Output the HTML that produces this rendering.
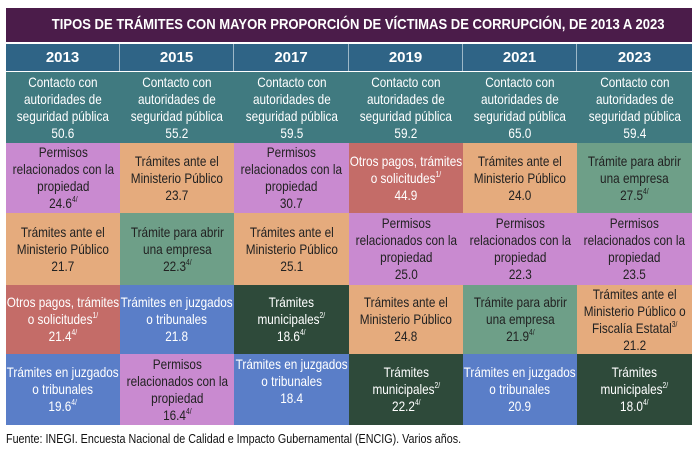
<!DOCTYPE html>
<html><head><meta charset="utf-8"><style>
body{margin:0;width:700px;height:454px;background:#fff;position:relative;font-family:"Liberation Sans",sans-serif;overflow:hidden}
.title{position:absolute;left:6px;top:8px;width:686px;height:34px;background:#4b1c4a;color:#fff;font-weight:bold;font-size:15px;line-height:34px;text-align:center;}
.title span{display:inline-block;transform:scaleX(0.87);white-space:nowrap}
.yr{position:absolute;top:44px;height:27px;background:#2f6486;color:#fff;font-weight:bold;font-size:15px;line-height:27px;text-align:center;border-right:1px solid #9db8c8;box-sizing:border-box}
.c{position:absolute;display:flex;justify-content:center;align-items:center;text-align:center;font-size:14px;line-height:17px;color:#222;box-sizing:border-box}
.c>div{white-space:nowrap;transform:scaleX(0.84)}
.c sup{font-size:8px;line-height:0;vertical-align:6px}
.teal{background:#407a80;color:#fff}
.pink{background:#c98ad0}
.org{background:#e5ab7d}
.grn{background:#6e9f88}
.red{background:#c46c68;color:#fff}
.blu{background:#5a7ec8;color:#fff}
.dgr{background:#2e4a3a;color:#fff}
.src{position:absolute;left:6px;top:432px;font-size:12.5px;color:#111;white-space:nowrap;transform-origin:left;transform:scaleX(0.86)}
</style></head><body>
<div class="title"><span>TIPOS DE TRÁMITES CON MAYOR PROPORCIÓN DE VÍCTIMAS DE CORRUPCIÓN, DE 2013 A 2023</span></div>
<div class="yr" style="left:6px;width:114px">2013</div>
<div class="yr" style="left:120px;width:114px">2015</div>
<div class="yr" style="left:234px;width:115px">2017</div>
<div class="yr" style="left:349px;width:114px">2019</div>
<div class="yr" style="left:463px;width:114px">2021</div>
<div class="yr" style="left:577px;width:115px;border-right:none">2023</div>

<div class="c teal" style="left:6px;top:72px;width:114px;height:71px"><div>Contacto con<br>autoridades de<br>seguridad pública<br>50.6</div></div>
<div class="c teal" style="left:120px;top:72px;width:114px;height:71px"><div>Contacto con<br>autoridades de<br>seguridad pública<br>55.2</div></div>
<div class="c teal" style="left:234px;top:72px;width:115px;height:71px"><div>Contacto con<br>autoridades de<br>seguridad pública<br>59.5</div></div>
<div class="c teal" style="left:349px;top:72px;width:114px;height:71px"><div>Contacto con<br>autoridades de<br>seguridad pública<br>59.2</div></div>
<div class="c teal" style="left:463px;top:72px;width:114px;height:71px"><div>Contacto con<br>autoridades de<br>seguridad pública<br>65.0</div></div>
<div class="c teal" style="left:577px;top:72px;width:115px;height:71px"><div>Contacto con<br>autoridades de<br>seguridad pública<br>59.4</div></div>

<div class="c pink" style="left:6px;top:143px;width:114px;height:70px"><div>Permisos<br>relacionados con la<br>propiedad<br>24.6<sup>4/</sup></div></div>
<div class="c org" style="left:120px;top:143px;width:114px;height:70px"><div>Trámites ante el<br>Ministerio Público<br>23.7</div></div>
<div class="c pink" style="left:234px;top:143px;width:115px;height:70px"><div>Permisos<br>relacionados con la<br>propiedad<br>30.7</div></div>
<div class="c red" style="left:349px;top:143px;width:114px;height:70px"><div>Otros pagos, trámites<br>o solicitudes<sup>1/</sup><br>44.9</div></div>
<div class="c org" style="left:463px;top:143px;width:114px;height:70px"><div>Trámites ante el<br>Ministerio Público<br>24.0</div></div>
<div class="c grn" style="left:577px;top:143px;width:115px;height:70px"><div>Trámite para abrir<br>una empresa<br>27.5<sup>4/</sup></div></div>

<div class="c org" style="left:6px;top:213px;width:114px;height:72px"><div>Trámites ante el<br>Ministerio Público<br>21.7</div></div>
<div class="c grn" style="left:120px;top:213px;width:114px;height:72px"><div>Trámite para abrir<br>una empresa<br>22.3<sup>4/</sup></div></div>
<div class="c org" style="left:234px;top:213px;width:115px;height:72px"><div>Trámites ante el<br>Ministerio Público<br>25.1</div></div>
<div class="c pink" style="left:349px;top:213px;width:114px;height:72px"><div>Permisos<br>relacionados con la<br>propiedad<br>25.0</div></div>
<div class="c pink" style="left:463px;top:213px;width:114px;height:72px"><div>Permisos<br>relacionados con la<br>propiedad<br>22.3</div></div>
<div class="c pink" style="left:577px;top:213px;width:115px;height:72px"><div>Permisos<br>relacionados con la<br>propiedad<br>23.5</div></div>

<div class="c red" style="left:6px;top:285px;width:114px;height:69px"><div>Otros pagos, trámites<br>o solicitudes<sup>1/</sup><br>21.4<sup>4/</sup></div></div>
<div class="c blu" style="left:120px;top:285px;width:114px;height:69px"><div>Trámites en juzgados<br>o tribunales<br>21.8</div></div>
<div class="c dgr" style="left:234px;top:285px;width:115px;height:69px"><div>Trámites<br>municipales<sup>2/</sup><br>18.6<sup>4/</sup></div></div>
<div class="c org" style="left:349px;top:285px;width:114px;height:69px"><div>Trámites ante el<br>Ministerio Público<br>24.8</div></div>
<div class="c grn" style="left:463px;top:285px;width:114px;height:69px"><div>Trámite para abrir<br>una empresa<br>21.9<sup>4/</sup></div></div>
<div class="c org" style="left:577px;top:285px;width:115px;height:69px"><div>Trámites ante el<br>Ministerio Público o<br>Fiscalía Estatal<sup>3/</sup><br>21.2</div></div>

<div class="c blu" style="left:6px;top:354px;width:114px;height:71px"><div>Trámites en juzgados<br>o tribunales<br>19.6<sup>4/</sup></div></div>
<div class="c pink" style="left:120px;top:354px;width:114px;height:71px"><div>Permisos<br>relacionados con la<br>propiedad<br>16.4<sup>4/</sup></div></div>
<div class="c blu" style="left:234px;top:354px;width:115px;height:71px;align-items:flex-start;padding-top:2px"><div>Trámites en juzgados<br>o tribunales<br>18.4</div></div>
<div class="c dgr" style="left:349px;top:354px;width:114px;height:71px"><div>Trámites<br>municipales<sup>2/</sup><br>22.2<sup>4/</sup></div></div>
<div class="c blu" style="left:463px;top:354px;width:114px;height:71px"><div>Trámites en juzgados<br>o tribunales<br>20.9</div></div>
<div class="c dgr" style="left:577px;top:354px;width:115px;height:71px"><div>Trámites<br>municipales<sup>2/</sup><br>18.0<sup>4/</sup></div></div>

<div class="src">Fuente: INEGI. Encuesta Nacional de Calidad e Impacto Gubernamental (ENCIG). Varios años.</div>
</body></html>
